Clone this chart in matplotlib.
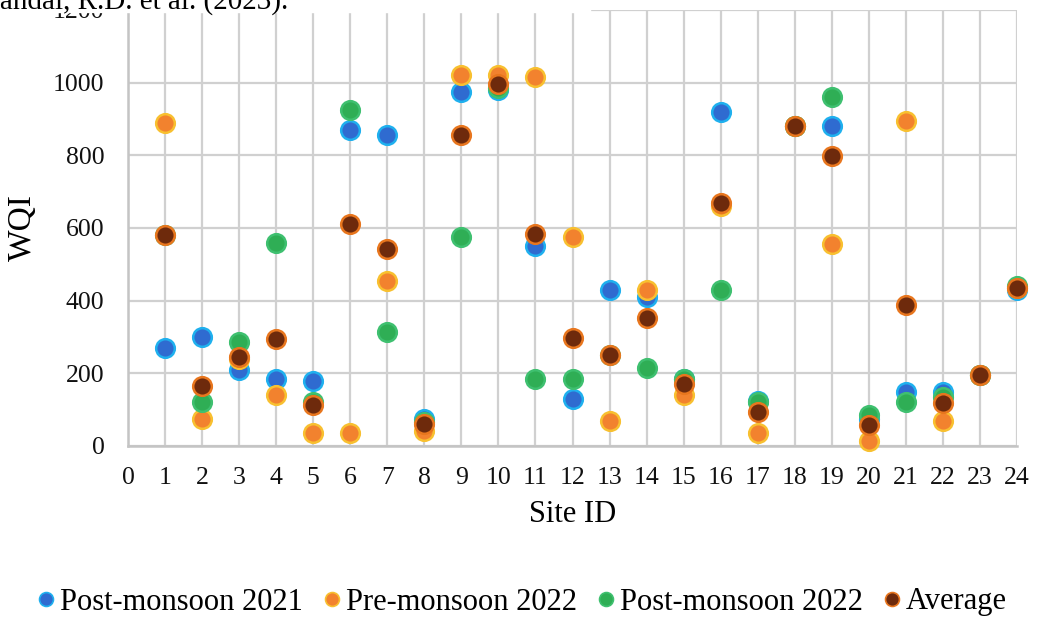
import matplotlib.pyplot as plt
from matplotlib.patches import Rectangle
from matplotlib.lines import Line2D

plt.rcParams['font.family'] = ['Liberation Serif', 'DejaVu Serif']

# Data
sites = list(range(1, 25))
post_2021 = [270, 300, 210, 185, 180, 870, 855, 75, 975, 980, 550, 130,
             430, 410, 185, 920, 125, 880, 880, 75, 150, 150, 195, 430]
pre_2022 = [890, 75, 240, 140, 35, 35, 455, 40, 1020, 1020, 1015, 575,
            70, 430, 140, 660, 35, 880, 555, 15, 895, 70, 195, 435]
post_2022 = [580, 120, 285, 560, 120, 925, 315, 65, 575, 985, 185, 185,
             250, 215, 185, 430, 120, 880, 960, 85, 120, 135, 195, 440]
average = [580, 165, 245, 295, 112, 610, 542, 60, 857, 995, 583, 297,
           250, 352, 170, 670, 93, 880, 798, 58, 388, 118, 195, 435]

series = [
    ('Post-monsoon 2021', post_2021, '#2f6bd0', '#1fb0ee'),
    ('Pre-monsoon 2022', pre_2022, '#f2822e', '#f8c030'),
    ('Post-monsoon 2022', post_2022, '#2fae55', '#3fc070'),
    ('Average', average, '#6e2a0c', '#e8761e'),
]

fig = plt.figure(figsize=(10.39, 6.19), dpi=100)
ax = fig.add_axes([128 / 1039, 1 - 446 / 619, (1017 - 128) / 1039, (446 - 10) / 619])

for name, vals, fc, ec in series:
    ax.scatter(sites, vals, s=180, color=fc, edgecolors=ec, linewidths=1.8,
               zorder=3, clip_on=False, label=name)

ax.set_xlim(0, 24)
ax.set_ylim(0, 1200)
ax.set_xticks(range(0, 25))
ax.set_yticks(range(0, 1201, 200))
ax.grid(True, color='#d0d0d0', linewidth=1.6)
ax.set_axisbelow(True)
for sp in ['top', 'right']:
    ax.spines[sp].set_visible(False)
for sp in ['left', 'bottom']:
    ax.spines[sp].set_color('#c4c4c4')
    ax.spines[sp].set_linewidth(1.8)
ax.tick_params(length=0, labelsize=18.5, colors='#111111')
ax.tick_params(axis='y', pad=17)
ax.tick_params(axis='x', pad=15)
ax.set_xlabel('Site ID', fontsize=22, labelpad=8)
ax.set_ylabel('WQI', fontsize=24, labelpad=11)

handles = [Line2D([], [], marker='o', linestyle='none', markersize=10,
                  markerfacecolor=fc, markeredgecolor=ec, markeredgewidth=1.2)
           for _, _, fc, ec in series]
fig.legend(handles, [s[0] for s in series], loc='center',
           bbox_to_anchor=(0.5, 1 - 602 / 619), ncol=4, frameon=False,
           fontsize=22, handletextpad=0.0, columnspacing=0.5,
           handlelength=0.9)

# cropped caption strip at the top
fig.patches.append(Rectangle((0, 1 - 12 / 619), 590 / 1039, 12 / 619,
                             transform=fig.transFigure, color='white',
                             zorder=10))
fig.text(-26 / 1039, 1 - 9 / 619, 'Mandal, R.D. et al. (2023).', fontsize=21,
         va='baseline', ha='left', zorder=11)

fig.savefig('out.png', dpi=100)
